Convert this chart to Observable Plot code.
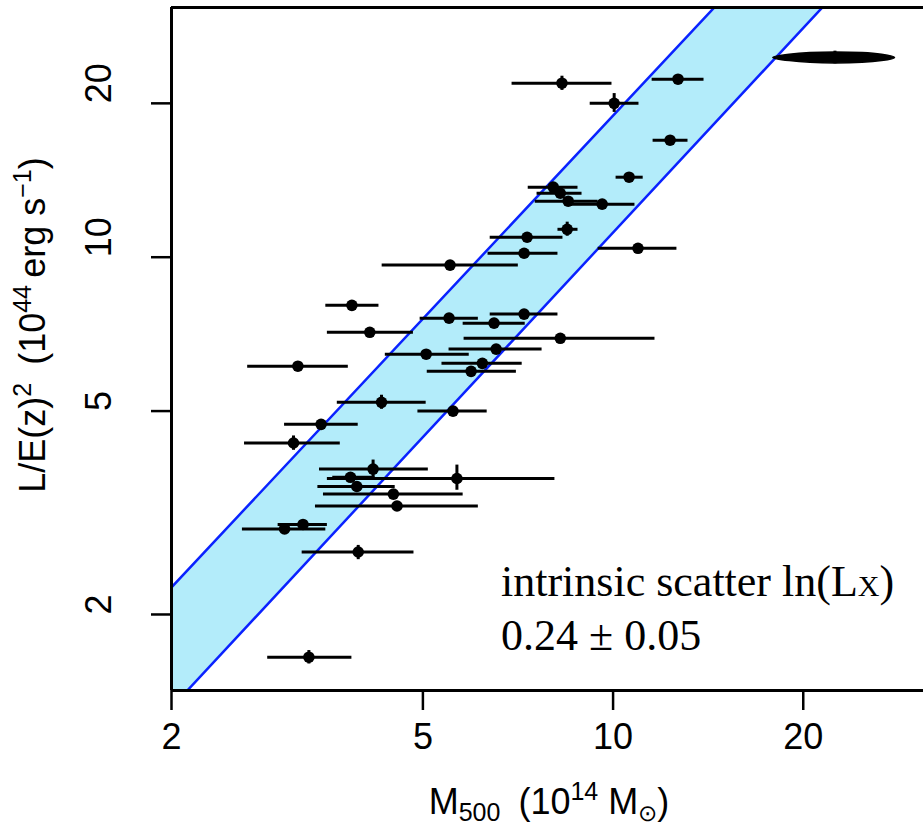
<!DOCTYPE html>
<html><head><meta charset="utf-8">
<script src="https://cdn.jsdelivr.net/npm/d3@7"></script>
<script src="https://cdn.jsdelivr.net/npm/@observablehq/plot@0.6"></script>
<style>body{margin:0;background:#fff} svg{display:block}</style>
</head><body><div id="chart"></div>
<script>
// Cluster masses M500 (1e14 Msun) with horizontal error bounds
const mass   = [8.30,10.04,12.67,12.31,10.60,8.04,8.25,8.49,9.61,8.46,7.31,7.23,10.95,5.52,3.86,4.12,3.17,5.50,7.23,6.48,8.25,6.53,5.06,6.21,5.96,4.30,5.58,3.45,3.12,4.17,5.66,3.84,3.93,4.49,4.55,3.23,3.02,3.95,3.30];
const massLo = [6.92,9.20,11.53,11.57,10.11,7.34,7.58,7.53,8.46,8.18,6.39,6.34,9.47,4.31,3.51,3.53,2.64,4.95,6.39,5.79,5.81,5.50,4.36,5.36,5.08,3.66,4.91,3.02,2.61,3.43,3.53,3.60,3.41,3.48,3.38,2.95,2.59,3.22,2.84];
const massHi = [9.96,10.99,13.93,13.14,11.16,8.80,8.93,9.47,10.83,8.80,8.33,8.18,12.62,7.08,4.26,4.83,3.81,6.12,8.18,7.26,11.65,7.72,5.92,7.18,7.03,5.06,6.32,3.95,3.70,5.10,8.09,4.20,4.52,5.79,6.12,3.53,3.51,4.84,3.86];
// Luminosity L/E(z)^2 (1e44 erg/s) with vertical error bounds (null = none visible)
const lum    = [21.9,20.0,22.3,16.94,14.34,13.71,13.34,12.87,12.70,11.34,10.94,10.18,10.41,9.65,8.05,7.13,6.12,7.60,7.74,7.43,6.94,6.61,6.46,6.20,5.98,5.20,5.00,4.71,4.33,3.85,3.69,3.71,3.56,3.44,3.26,3.00,2.94,2.65,1.65];
const lumLo  = [21.2,19.2,null,null,null,null,null,null,null,10.99,null,null,null,null,null,null,null,null,null,null,null,null,null,null,null,5.04,null,null,4.19,3.71,3.50,null,null,null,null,null,null,2.56,1.60];
const lumHi  = [22.6,20.9,null,null,null,null,null,null,null,11.71,null,null,null,null,null,null,null,null,null,null,null,null,null,null,null,5.37,null,null,4.47,4.01,3.92,null,null,null,null,null,null,2.73,1.70];

// Scatter band (edges)
const bandMass = [2, 31];
const bandLow  = [1.315, 50.3];
const bandHigh = [2.26, 84.3];

// Error ellipse (top right)
const ellMass = [17.9, 19.0, 22.45, 26.6, 27.9, 26.6, 22.45, 19.0];
const ellLum  = [24.6, 24.95, 25.2, 24.95, 24.6, 24.25, 24.0, 24.25];
const ellCenter = {m: 22.45, L: 24.6, Llo: 23.9, Lhi: 25.3};

// Axes
const xDomain = [2, 31];
const yDomain = [1.42, 30.8];
const xTicks = [2, 5, 10, 20];
const yTicks = [2, 5, 10, 20];

const data = mass.map((m, i) => ({m, lo: massLo[i], hi: massHi[i], L: lum[i], Llo: lumLo[i], Lhi: lumHi[i]}));
const band = bandMass.map((m, i) => ({m, lo: bandLow[i], hi: bandHigh[i]}));
const ell = ellMass.map((m, i) => ({m, L: ellLum[i]}));

const svg = Plot.plot({
  width: 923, height: 831,
  marginLeft: 171, marginRight: 0, marginTop: 7, marginBottom: 141,
  style: {fontFamily: "Liberation Sans, Arial, sans-serif", fontSize: "36px", background: "#fff", color: "#000"},
  x: {type: "log", domain: xDomain, axis: null},
  y: {type: "log", domain: yDomain, axis: null},
  marks: [
    Plot.areaY(band, {x: "m", y1: "lo", y2: "hi", fill: "#b3ecfa", clip: true}),
    Plot.line(band, {x: "m", y: "lo", stroke: "#0a22ff", strokeWidth: 2.5, clip: true}),
    Plot.line(band, {x: "m", y: "hi", stroke: "#0a22ff", strokeWidth: 2.5, clip: true}),
    Plot.ruleY(data, {y: "L", x1: "lo", x2: "hi", stroke: "#000", strokeWidth: 3}),
    Plot.ruleX(data.filter(d => d.Llo != null), {x: "m", y1: "Llo", y2: "Lhi", stroke: "#000", strokeWidth: 3}),
    Plot.dot(data, {x: "m", y: "L", r: 5.8, fill: "#000"}),
    Plot.line(ell, {x: "m", y: "L", curve: "catmull-rom-closed", fill: "#000", stroke: "#000", strokeWidth: 1.5}),
    Plot.ruleX([ellCenter], {x: "m", y1: "Llo", y2: "Lhi", stroke: "#000", strokeWidth: 3}),
    Plot.dot([ellCenter], {x: "m", y: "L", r: 5.5, fill: "#000"}),
    // frame: left, top, bottom
    Plot.ruleX([xDomain[0]], {stroke: "#000", strokeWidth: 3}),
    Plot.ruleY(yDomain, {stroke: "#000", strokeWidth: 3}),
    // axes
    Plot.axisX({ticks: xTicks, tickSize: 20, tickPadding: 13, tickFormat: d => String(d), strokeWidth: 2.5, fontSize: 36, label: null}),
    Plot.axisY({ticks: yTicks, tickSize: 20, tickFormat: () => "", strokeWidth: 2.5, label: null}),
    Plot.text(yTicks, {y: d => d, frameAnchor: "left", dx: -72, rotate: -90, text: d => String(d), fontSize: 36, fill: "#000"})
  ]
});
document.getElementById("chart").appendChild(svg);

const s = d3.select(svg);
function rich(x, y, parts, opts) {
  const t = s.append("text")
    .attr("font-family", opts.family)
    .attr("font-size", opts.size)
    .attr("text-anchor", opts.anchor || "start")
    .attr("fill", "#000")
    .attr("xml:space", "preserve");
  if (opts.rotate) t.attr("transform", `translate(${x},${y}) rotate(${opts.rotate})`);
  else t.attr("x", x).attr("y", y);
  for (const p of parts) {
    const ts = t.append("tspan").text(p.t);
    if (p.size) ts.attr("font-size", p.size);
    if (p.dy) ts.attr("dy", p.dy);
  }
  return t;
}
// x title
rich(549, 814, [
  {t: "M"}, {t: "500", size: 25, dy: 7}, {t: "\u2002(10", dy: -7}, {t: "14", size: 25, dy: -14},
  {t: " M", dy: 14}, {t: "\u2299", size: 23, dy: 7}, {t: ")", dy: -7}
], {family: "Liberation Sans, Arial, sans-serif", size: 36, anchor: "middle"});
// y title
rich(45, 325, [
  {t: "L/E(z)"}, {t: "2", size: 25, dy: -14}, {t: "\u2002(10", dy: 14}, {t: "44", size: 25, dy: -14},
  {t: "\u2009erg s", dy: 14}, {t: "\u22121", size: 25, dy: -14}, {t: ")", dy: 14}
], {family: "Liberation Sans, Arial, sans-serif", size: 36, anchor: "middle", rotate: -90});
// annotation
rich(501, 596, [{t: "intrinsic scatter ln(L"}, {t: "X", size: 30}, {t: ")"}],
  {family: "Liberation Serif, Times New Roman, serif", size: 44});
rich(501, 650, [{t: "0.24 \u00b1 0.05"}],
  {family: "Liberation Serif, Times New Roman, serif", size: 44});
</script>
</body></html>
